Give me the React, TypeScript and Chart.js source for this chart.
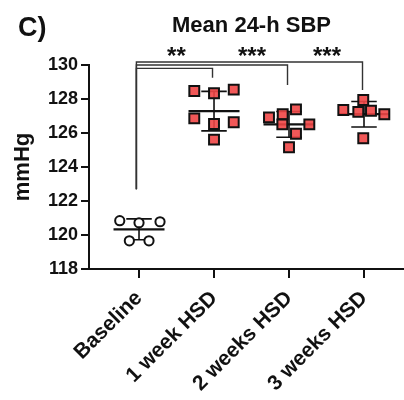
import React, { useEffect, useRef } from 'react';
import { Chart, registerables } from 'chart.js';

Chart.register(...registerables);

// Mean 24-h systolic blood pressure per time point (mmHg), one value per animal
const groups = ['Baseline', '1 week HSD', '2 weeks HSD', '3 weeks HSD'];
const baseline = [120.84, 120.72, 120.78, 119.66, 119.66];
const week1 = [128.47, 128.34, 128.55, 126.86, 126.53, 126.63, 125.61];
const week2 = [126.92, 127.1, 127.39, 126.51, 126.51, 125.96, 125.16];
const week3 = [127.35, 127.94, 127.24, 127.31, 127.1, 125.69];

// horizontal spread of each dot inside its column (in category units)
const baselineJitter = [-0.257, 0, 0.28, -0.129, 0.133];
const week1Jitter = [-0.263, 0, 0.263, -0.263, 0, 0.263, 0];
const week2Jitter = [-0.267, -0.084, 0.093, -0.089, 0.271, 0.093, 0];
const week3Jitter = [-0.276, -0.01, -0.076, 0.093, 0.271, -0.01];

const yTicks = [118, 120, 122, 124, 126, 128, 130];

// significance brackets, each comparing Baseline with a later week
const comparisonTargets = [1, 2, 3];
const comparisonStars = ['**', '***', '***'];
const bracketLevels = [129.8, 130.0, 130.18];
const bracketDrops = [129.25, 128.82, 128.53];
const bracketStemEnd = 122.69;

const groupValues = [baseline, week1, week2, week3];
const groupJitter = [baselineJitter, week1Jitter, week2Jitter, week3Jitter];

const FONT = "'Liberation Sans', Arial, Helvetica, sans-serif";
const RED = 'rgba(240, 70, 70, 0.9)';
const INK = '#111';

const mean = (a: number[]) => a.reduce((s, v) => s + v, 0) / a.length;
const sd = (a: number[]) => {
  const m = mean(a);
  return Math.sqrt(a.reduce((s, v) => s + (v - m) * (v - m), 0) / (a.length - 1));
};

const annotations = {
  id: 'annotations',
  beforeDatasetsDraw(chart: any) {
    const { ctx } = chart;
    const xs = chart.scales.x;
    const ys = chart.scales.y;
    ctx.save();
    ctx.strokeStyle = INK;
    ctx.lineCap = 'butt';
    groupValues.forEach((vals, g) => {
      const m = mean(vals);
      const s = sd(vals);
      const yM = ys.getPixelForValue(m);
      const yHi = ys.getPixelForValue(m + s);
      const yLo = ys.getPixelForValue(m - s);
      const xc = xs.getPixelForValue(g);
      // mean bar
      ctx.lineWidth = 2.2;
      ctx.beginPath();
      ctx.moveTo(xs.getPixelForValue(g - 0.34), yM);
      ctx.lineTo(xs.getPixelForValue(g + 0.34), yM);
      ctx.stroke();
      // SD whisker with caps
      ctx.lineWidth = 1.6;
      ctx.beginPath();
      ctx.moveTo(xc, yHi);
      ctx.lineTo(xc, yLo);
      ctx.moveTo(xs.getPixelForValue(g - 0.17), yHi);
      ctx.lineTo(xs.getPixelForValue(g + 0.17), yHi);
      ctx.moveTo(xs.getPixelForValue(g - 0.17), yLo);
      ctx.lineTo(xs.getPixelForValue(g + 0.17), yLo);
      ctx.stroke();
    });
    ctx.restore();
  },
  afterDraw(chart: any) {
    const { ctx } = chart;
    const xs = chart.scales.x;
    const ys = chart.scales.y;
    ctx.save();
    // brackets from Baseline
    const stemX = xs.getPixelForValue(-0.035);
    ctx.strokeStyle = '#333';
    ctx.lineWidth = 1.4;
    let prevX = stemX;
    comparisonTargets.forEach((t, i) => {
      const yL = ys.getPixelForValue(bracketLevels[i]);
      const dropX = xs.getPixelForValue(t - 0.02);
      ctx.beginPath();
      ctx.moveTo(stemX, ys.getPixelForValue(bracketStemEnd));
      ctx.lineTo(stemX, yL);
      ctx.lineTo(dropX, yL);
      ctx.lineTo(dropX, ys.getPixelForValue(bracketDrops[i]));
      ctx.stroke();
      ctx.fillStyle = INK;
      ctx.font = `bold 24px ${FONT}`;
      ctx.textAlign = 'center';
      ctx.textBaseline = 'alphabetic';
      ctx.fillText(comparisonStars[i], (prevX + dropX) / 2 + 2, ys.getPixelForValue(130.08));
      prevX = dropX;
    });
    // chart title over the HSD columns
    ctx.fillStyle = INK;
    ctx.font = `bold 22px ${FONT}`;
    ctx.textAlign = 'center';
    ctx.fillText('Mean 24-h SBP', xs.getPixelForValue(1.5), 32);
    // panel letter
    ctx.font = `bold 27px ${FONT}`;
    ctx.textAlign = 'left';
    ctx.fillText('C)', 18, 36);
    ctx.restore();
  },
};

export default function App() {
  const canvasRef = useRef<HTMLCanvasElement | null>(null);

  useEffect(() => {
    if (!canvasRef.current) return;
    const datasets = groupValues.map((vals, g) => ({
      type: 'scatter' as const,
      label: groups[g],
      data: vals.map((v, i) => ({ x: g + groupJitter[g][i], y: v })),
      pointStyle: g === 0 ? 'circle' : 'rect',
      pointRadius: g === 0 ? 4.6 : 7,
      pointBackgroundColor: g === 0 ? '#fff' : RED,
      pointBorderColor: INK,
      pointBorderWidth: 2,
    }));

    const chart = new Chart(canvasRef.current, {
      type: 'scatter',
      data: { datasets },
      options: {
        animation: false,
        responsive: false,
        layout: { autoPadding: false, padding: { top: 65, right: 1, left: 0, bottom: 0 } },
        plugins: { legend: { display: false }, tooltip: { enabled: false }, title: { display: false } },
        scales: {
          x: {
            type: 'linear',
            min: -0.667,
            max: 3.52,
            afterBuildTicks: (s: any) => {
              s.ticks = [0, 1, 2, 3].map((v) => ({ value: v }));
            },
            afterFit: (s: any) => {
              s.height = 131;
              s.paddingLeft = 0;
              s.paddingRight = 0;
            },
            grid: { drawOnChartArea: false, drawTicks: true, tickLength: 9, color: INK, lineWidth: 2 },
            border: { display: true, color: INK, width: 2 },
            ticks: {
              autoSkip: false,
              minRotation: 45,
              maxRotation: 45,
              padding: 8,
              color: INK,
              font: { family: FONT, size: 21, weight: 'bold' },
              callback: (v: any) => groups[v as number] ?? '',
            },
          },
          y: {
            min: 118,
            max: 130,
            afterBuildTicks: (s: any) => {
              s.ticks = yTicks.map((v) => ({ value: v }));
            },
            afterFit: (s: any) => {
              s.width = 89;
              s.paddingTop = 0;
              s.paddingBottom = 0;
            },
            grid: { drawOnChartArea: false, drawTicks: true, tickLength: 8, color: INK, lineWidth: 2 },
            border: { display: true, color: INK, width: 2 },
            ticks: {
              padding: 3,
              color: INK,
              font: { family: FONT, size: 18, weight: 'bold' },
            },
            title: {
              display: true,
              text: 'mmHg',
              color: INK,
              font: { family: FONT, size: 22, weight: 'bold' },
              padding: { top: 10, bottom: 0 },
            },
          },
        },
      },
      plugins: [annotations],
    });
    return () => chart.destroy();
  }, []);

  return (
    <div style={{ position: 'absolute', left: 0, top: 0, width: 404, height: 400, background: '#fff' }}>
      <canvas ref={canvasRef} width={404} height={400} />
    </div>
  );
}
